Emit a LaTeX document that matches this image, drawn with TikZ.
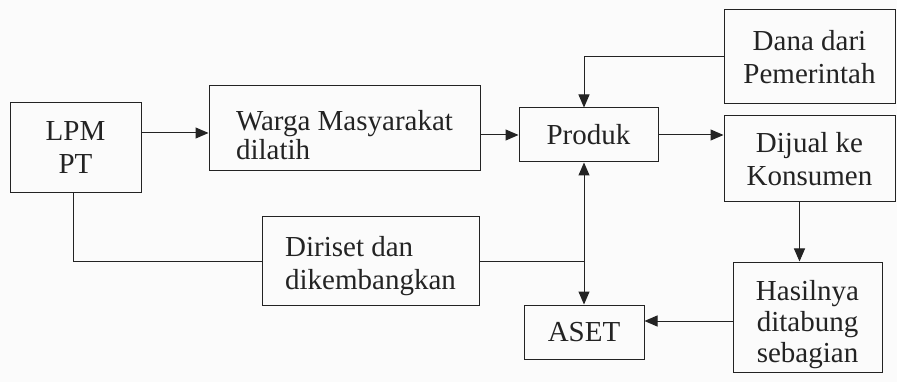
\documentclass[tikz,border=0pt]{standalone}
\usepackage{fontspec}
\setmainfont{Liberation Serif}
\usetikzlibrary{arrows.meta, calc}
\definecolor{paper}{RGB}{251,251,251}
\definecolor{ink}{RGB}{35,35,35}
\newcommand{\lowerby}[1]{\rule{0pt}{#1}}
\tikzset{
    box/.style={rectangle, draw=ink, line width=1pt, inner sep=0pt, align=center, text=ink, font=\fontsize{29}{33}\selectfont},
    boxleft/.style={box, align=left},
    arr/.style={-{Triangle[length=13pt, width=11pt]}, line width=1pt, color=ink},
    arrboth/.style={{Triangle[length=13pt, width=11pt]}-{Triangle[length=13pt, width=11pt]}, line width=1pt, color=ink},
    link/.style={line width=1pt, color=ink}
}
\begin{document}
\begin{tikzpicture}[x=1pt, y=-1pt]
    \fill[paper] (0,0) rectangle (897,382);
    \useasboundingbox (0,0) rectangle (897,382);
    % boxes
    \node[box, minimum width=131pt, minimum height=90pt] (lpm) at (75.5,148) {LPM\\PT};
    \node[boxleft, minimum width=271pt, minimum height=85pt, font=\fontsize{29}{29}\selectfont] (warga) at (344.5,128.5) {\lowerby{34pt}Warga Masyarakat\\dilatih};
    \node[box, minimum width=139pt, minimum height=54pt] (produk) at (588.5,135) {Produk};
    \node[box, minimum width=171pt, minimum height=94pt] (dana) at (809.5,57) {Dana dari\\Pemerintah};
    \node[box, minimum width=171pt, minimum height=86pt] (dijual) at (809.5,159) {Dijual ke\\Konsumen};
    \node[boxleft, minimum width=217pt, minimum height=88pt] (diriset) at (370.5,261) {\lowerby{30pt}Diriset dan\\dikembangkan};
    \node[box, minimum width=120pt, minimum height=54pt] (aset) at (584,332) {ASET};
    \node[box, minimum width=149pt, minimum height=110pt, font=\fontsize{29}{31}\selectfont] (hasil) at (807.5,317) {\lowerby{36pt}Hasilnya\\ditabung\\sebagian};
    % connectors
    \draw[arr] ([yshift=15pt]lpm.east) -- ([yshift=15pt]lpm.east -| warga.west);
    \draw[arr] (warga.east |- produk.west) -- (produk.west);
    \draw[arr] (dana.west) -| (aset.north |- produk.north);
    \draw[arr] (produk.east) -- (produk.east -| dijual.west);
    \draw[arr] ([xshift=-10pt]dijual.south) -- ([xshift=-10pt]dijual.south |- hasil.north);
    \draw[arr] ([yshift=-4pt]hasil.west) -- ([yshift=-4pt]hasil.west -| aset.east);
    \draw[arrboth] (aset.north |- produk.south) -- (aset.north);
    \draw[link] ([xshift=-2.5pt]lpm.south) |- (diriset.west);
    \draw[link] (diriset.east) -- (diriset.east -| aset.north);
\end{tikzpicture}
\end{document}
